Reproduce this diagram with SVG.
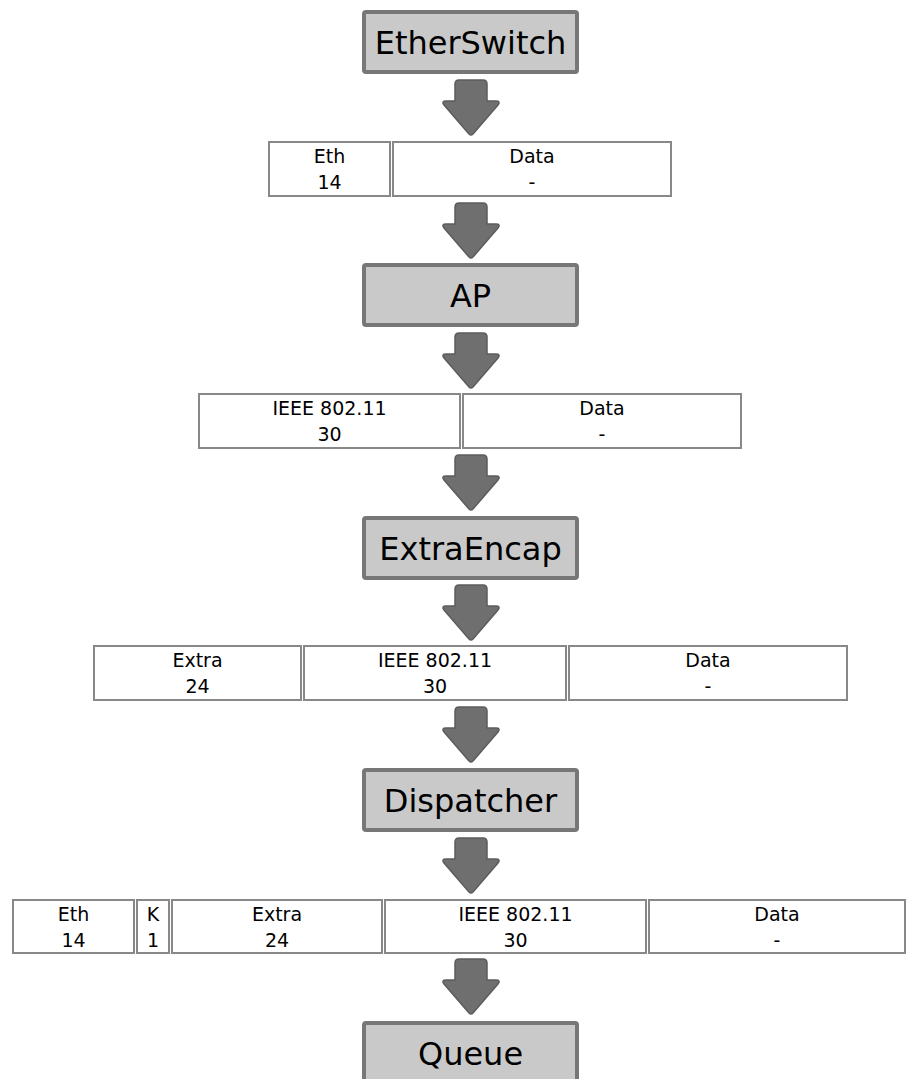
<svg xmlns="http://www.w3.org/2000/svg" width="919" height="1079" viewBox="0 0 919 1079">
<defs>
<style>
.node rect.box{fill:#c9c9c9;stroke:#777;stroke-width:4}
.node text.lbl{font-family:"DejaVu Sans",sans-serif;font-size:32px;fill:#000;text-anchor:middle}
.cell rect{fill:#fff;stroke:#888;stroke-width:2}
.cell text{font-family:"DejaVu Sans",sans-serif;font-size:19px;fill:#000;text-anchor:middle}
.arr{fill:#6f6f6f;stroke:#5c5c5c;stroke-width:1.5;stroke-linejoin:round}
</style>
<path id="arrow" class="arr" d="M -12,0 H 12 Q 16,0 16,4 V 21 H 25 Q 30,21 27,25 L 2,54 Q 0,56 -2,54 L -27,25 Q -30,21 -25,21 H -16 V 4 Q -16,0 -12,0 Z"/>
</defs>
<rect width="919" height="1079" fill="#fff"/>

<g id="connectors">
<use href="#arrow" x="471" y="80"/>
<use href="#arrow" x="471" y="203"/>
<use href="#arrow" x="471" y="333"/>
<use href="#arrow" x="471" y="455"/>
<use href="#arrow" x="471" y="585"/>
<use href="#arrow" x="471" y="707"/>
<use href="#arrow" x="471" y="838"/>
<use href="#arrow" x="471" y="959"/>
</g>

<g id="etherswitch" class="node">
<rect class="box" x="364" y="12" width="213" height="60" rx="2"/>
<text class="lbl" x="470.5" y="54">EtherSwitch</text>
</g>

<g id="packet1" class="packet">
<g class="cell"><rect x="269" y="142" width="121" height="54"/><text x="329.5" y="163">Eth</text><text x="329.5" y="189">14</text></g>
<g class="cell"><rect x="393" y="142" width="278" height="54"/><text x="532" y="163">Data</text><text x="532" y="189">-</text></g>
</g>

<g id="ap" class="node">
<rect class="box" x="364" y="265" width="213" height="60" rx="2"/>
<text class="lbl" x="470.5" y="307">AP</text>
</g>

<g id="packet2" class="packet">
<g class="cell"><rect x="199" y="394" width="261" height="54"/><text x="329.5" y="415">IEEE 802.11</text><text x="329.5" y="441">30</text></g>
<g class="cell"><rect x="463" y="394" width="278" height="54"/><text x="602" y="415">Data</text><text x="602" y="441">-</text></g>
</g>

<g id="extraencap" class="node">
<rect class="box" x="364" y="518" width="213" height="60" rx="2"/>
<text class="lbl" x="470.5" y="560">ExtraEncap</text>
</g>

<g id="packet3" class="packet">
<g class="cell"><rect x="94" y="646" width="207" height="54"/><text x="197.5" y="667">Extra</text><text x="197.5" y="693">24</text></g>
<g class="cell"><rect x="304" y="646" width="262" height="54"/><text x="435" y="667">IEEE 802.11</text><text x="435" y="693">30</text></g>
<g class="cell"><rect x="569" y="646" width="278" height="54"/><text x="708" y="667">Data</text><text x="708" y="693">-</text></g>
</g>

<g id="dispatcher" class="node">
<rect class="box" x="364" y="770" width="213" height="60" rx="2"/>
<text class="lbl" x="470.5" y="812">Dispatcher</text>
</g>

<g id="packet4" class="packet">
<g class="cell"><rect x="13" y="900" width="121" height="53"/><text x="73.5" y="921">Eth</text><text x="73.5" y="947">14</text></g>
<g class="cell"><rect x="137" y="900" width="32" height="53"/><text x="153" y="921">K</text><text x="153" y="947">1</text></g>
<g class="cell"><rect x="172" y="900" width="210" height="53"/><text x="277" y="921">Extra</text><text x="277" y="947">24</text></g>
<g class="cell"><rect x="385" y="900" width="261" height="53"/><text x="515.5" y="921">IEEE 802.11</text><text x="515.5" y="947">30</text></g>
<g class="cell"><rect x="649" y="900" width="256" height="53"/><text x="777" y="921">Data</text><text x="777" y="947">-</text></g>
</g>

<g id="queue" class="node">
<rect class="box" x="364" y="1023" width="213" height="60" rx="2"/>
<text class="lbl" x="470.5" y="1065">Queue</text>
</g>
</svg>
